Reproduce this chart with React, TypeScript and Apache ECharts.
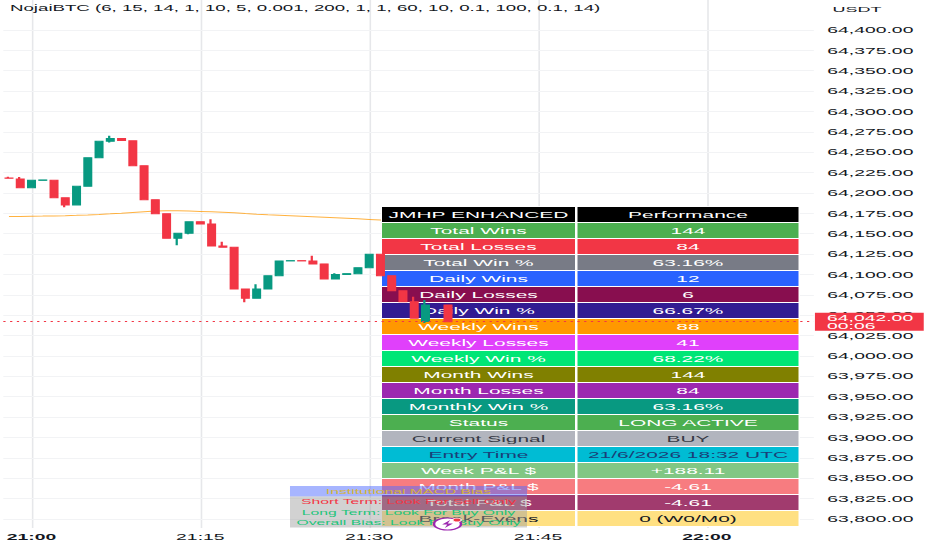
import React, { useEffect, useRef } from 'react';
import * as echarts from 'echarts';

// ---------- data ----------
const TITLE = 'NojaiBTC (6, 15, 14, 1, 10, 5, 0.001, 200, 1, 1, 60, 10, 0.1, 100, 0.1, 14)';
const CURRENCY = 'USDT';
const COUNTDOWN = '00:06';

const TIMES: string[] = [
  '20:58', '20:59',
  '21:00', '21:01', '21:02', '21:03', '21:04', '21:05', '21:06', '21:07', '21:08', '21:09',
  '21:10', '21:11', '21:12', '21:13', '21:14', '21:15', '21:16', '21:17', '21:18', '21:19',
  '21:20', '21:21', '21:22', '21:23', '21:24', '21:25', '21:26', '21:27', '21:28', '21:29',
  '21:30', '21:31', '21:32', '21:33', '21:34', '21:35', '21:36', '21:37', '21:38', '21:39',
  '21:40', '21:41', '21:42', '21:43', '21:44', '21:45', '21:46', '21:47', '21:48', '21:49',
  '21:50', '21:51', '21:52', '21:53', '21:54', '21:55', '21:56', '21:57', '21:58', '21:59',
  '22:00', '22:01', '22:02', '22:03', '22:04', '22:05', '22:06', '22:07', '22:08', '22:09',
];
const TIME_LABELS = ['21:00', '21:15', '21:30', '21:45', '22:00'];

const PRICE_TICKS = [
  63800, 63825, 63850, 63875, 63900, 63925, 63950, 63975, 64000, 64025, 64050, 64075, 64100,
  64125, 64150, 64175, 64200, 64225, 64250, 64275, 64300, 64325, 64350, 64375, 64400,
];
const PRICE_MIN = 63788.9;
const PRICE_MAX = 64436.8;

const CANDLE_TIMES = [
  '20:58', '20:59', '21:00', '21:01', '21:02', '21:03', '21:04', '21:05', '21:06', '21:07',
  '21:08', '21:09', '21:10', '21:11', '21:12', '21:13', '21:14', '21:15', '21:16', '21:17',
  '21:18', '21:19', '21:20', '21:21', '21:22', '21:23', '21:24', '21:25', '21:26', '21:27',
  '21:28', '21:29', '21:30', '21:31', '21:32', '21:33', '21:34', '21:35', '21:37',
];
const OPEN = [
  64218.5, 64217, 64206.5, 64215.5, 64215.6, 64194.2, 64185.3, 64208.2, 64243.3, 64263.4,
  64267, 64264, 64233.5, 64191.8, 64174.6, 64144.4, 64150.5, 64164.8, 64162, 64135,
  64133.4, 64082.2, 64070.8, 64082.2, 64098.5, 64116.6, 64117, 64116.6, 64113, 64094.5,
  64100, 64101, 64108.4, 64124.8, 64098.5, 64079.9, 64066.6, 64042.2, 64062.6,
];
const CLOSE = [
  64218, 64206.5, 64215.6, 64216, 64194.2, 64185.3, 64208.2, 64243.3, 64263.4, 64267,
  64264.5, 64233.5, 64191.8, 64174.6, 64144.4, 64150.5, 64164.8, 64162, 64135, 64133.4,
  64082.2, 64070.8, 64082.2, 64098.5, 64116.6, 64117, 64116.6, 64113, 64094.5, 64100,
  64101, 64108.4, 64124.8, 64098.5, 64079.9, 64066.6, 64046.3, 64062.6, 64042,
];
const LOW = [
  64217.5, 64206.5, 64206.5, 64215.5, 64194.2, 64182.4, 64185.3, 64208.2, 64243.3, 64262,
  64264.5, 64233.5, 64191.8, 64174.6, 64144.4, 64136, 64149.5, 64162, 64135, 64133.4,
  64082.2, 64065.9, 64070.8, 64082.2, 64098.5, 64116.6, 64116.6, 64113, 64094.5, 64094.5,
  64100, 64101, 64108.4, 64098.5, 64079.9, 64066.6, 64046.3, 64040.5, 64042,
];
const HIGH = [
  64220, 64219.6, 64215.6, 64216, 64215.6, 64194.2, 64208.2, 64243.3, 64263.4, 64270.3,
  64267, 64264, 64233.5, 64191.8, 64174.6, 64150.5, 64164.8, 64164.8, 64167.7, 64140,
  64133.4, 64082.2, 64088, 64098.5, 64116.6, 64117, 64117, 64123, 64113, 64101.5,
  64101, 64108.4, 64124.8, 64124.8, 64098.5, 64079.9, 64072.6, 64068.7, 64062.6,
];
// moving average, 20:58 .. 21:37
const MA_VALUES = [
  64171.0, 64171.2, 64171.4, 64171.6, 64171.9, 64172.2, 64172.6, 64173.1, 64173.7, 64174.4,
  64175.2, 64176.1, 64177.0, 64177.8, 64178.2, 64178.1, 64177.8, 64177.4, 64177.0, 64176.4,
  64175.6, 64174.7, 64173.9, 64173.2, 64172.6, 64172.0, 64171.4, 64170.8, 64170.2, 64169.6,
  64169.0, 64168.3, 64167.6, 64166.9, 64165.8, 64164.7, 64163.5, 64162.5, 64161.6, 64160.75,
];

const TABLE_HEAD = ['JMHP ENHANCED', 'Performance'];
const TABLE_LABELS = [
  'Total Wins', 'Total Losses', 'Total Win %', 'Daily Wins', 'Daily Losses', 'Daily Win %',
  'Weekly Wins', 'Weekly Losses', 'Weekly Win %', 'Month Wins', 'Month Losses', 'Monthly Win %',
  'Status', 'Current Signal', 'Entry Time', 'Week P&L $', 'Month P&L $', 'Total P&L $', 'Break-Evens',
];
const TABLE_VALUES = [
  '144', '84', '63.16%', '12', '6', '66.67%',
  '88', '41', '68.22%', '144', '84', '63.16%',
  'LONG ACTIVE', 'BUY', '21/6/2026 18:32 UTC', '+188.11', '-4.61', '-4.61', '0 (W0/M0)',
];
const MACD_TITLE = 'Institutional MACD Bias';
const MACD_ROWS = [
  'Short Term: Look For Sell Only',
  'Long Term: Look For Buy Only',
  'Overall Bias: Look For Buy Only',
];

// ---------- styles ----------
const ROW_STYLE = [
  { bg: '#000000', fg: '#ffffff' },
  { bg: '#4caf50', fg: '#ffffff' },
  { bg: '#f23645', fg: '#ffffff' },
  { bg: '#787b86', fg: '#ffffff' },
  { bg: '#2962ff', fg: '#ffffff' },
  { bg: '#880e4f', fg: '#ffffff' },
  { bg: '#311b92', fg: '#ffffff' },
  { bg: '#ff9800', fg: '#ffffff' },
  { bg: '#e040fb', fg: '#ffffff' },
  { bg: '#00e676', fg: '#ffffff' },
  { bg: '#808000', fg: '#ffffff' },
  { bg: '#9c27b0', fg: '#ffffff' },
  { bg: '#089981', fg: '#ffffff' },
  { bg: '#4caf50', fg: '#ffffff' },
  { bg: '#b2b5be', fg: '#363a45' },
  { bg: '#00bcd4', fg: '#1a3f78' },
  { bg: '#81c784', fg: '#ffffff' },
  { bg: '#f77c80', fg: '#ffffff' },
  { bg: '#a13b6e', fg: '#ffffff' },
  { bg: '#ffe082', fg: '#131722' },
];
const MACD_COLORS = ['#f23645', '#1ec47a', '#1ec47a'];

const FONT = '"Liberation Sans", Arial, sans-serif';
const TXT = '#131722';
const UP = '#089981';
const DOWN = '#f23645';

// the reference is horizontally stretched; draw in a narrow box and stretch it
const NAT_W = 414;
const S = 932 / NAT_W;
const nx = (v: number) => v / S;

const fmtPrice = (v: number) =>
  Number(v).toLocaleString('en-US', { minimumFractionDigits: 2, maximumFractionDigits: 2 });

function textEl(x: number, y: number, text: string, fill: string, size: number, z: number, align = 'center', weight = 'normal') {
  return {
    type: 'text',
    z,
    x,
    y,
    silent: true,
    style: {
      text,
      fill,
      font: `${weight} ${size}px ${FONT}`,
      textAlign: align,
      textVerticalAlign: 'middle',
      align,
      verticalAlign: 'middle',
    },
  };
}

function buildGraphic() {
  const els: any[] = [];
  // table
  const top = 207;
  const pitch = 16;
  const cellH = 15;
  const c1x = nx(382), c1w = nx(193);
  const c2x = nx(577.5), c2w = nx(221);
  const rows = [TABLE_HEAD, ...TABLE_LABELS.map((l, i) => [l, TABLE_VALUES[i]])];
  els.push({
    type: 'rect', z: 2, silent: true,
    shape: { x: nx(381), y: top - 1, width: nx(419), height: rows.length * pitch + 1 },
    style: { fill: '#ffffff' },
  });
  rows.forEach((r, i) => {
    const y = top + i * pitch;
    const st = ROW_STYLE[i];
    els.push({ type: 'rect', z: 2, silent: true, shape: { x: c1x, y, width: c1w, height: cellH }, style: { fill: st.bg } });
    els.push({ type: 'rect', z: 2, silent: true, shape: { x: c2x, y, width: c2w, height: cellH }, style: { fill: st.bg } });
    els.push(textEl(c1x + c1w / 2, y + cellH / 2 + 0.5, r[0], st.fg, 9.3, 3));
    els.push(textEl(c2x + c2w / 2, y + cellH / 2 + 0.5, r[1], st.fg, 9.3, 3));
  });
  // MACD bias box
  const bx = nx(290), bw = nx(237);
  const by = 486, bh = 10.4;
  els.push({ type: 'rect', z: 6, silent: true, shape: { x: bx, y: by, width: bw, height: bh }, style: { fill: 'rgba(79,108,255,0.5)' } });
  els.push({ type: 'rect', z: 6, silent: true, shape: { x: bx, y: by + bh, width: bw, height: bh * 3 }, style: { fill: 'rgba(160,160,160,0.47)' } });
  els.push(textEl(bx + bw / 2, by + bh / 2 + 0.3, MACD_TITLE, '#d4b43a', 7, 7));
  MACD_ROWS.forEach((t, i) => {
    els.push(textEl(bx + bw / 2, by + bh * (i + 1) + bh / 2 + 0.3, t, MACD_COLORS[i], 7, 7));
  });
  // small badge
  const cx = nx(447.5), cy = 524;
  els.push({ type: 'circle', z: 8, silent: true, shape: { cx, cy, r: 6 }, style: { fill: '#ffffff', stroke: '#9c27b0', lineWidth: 1.1 } });
  els.push({
    type: 'polygon', z: 8, silent: true,
    shape: { points: [[cx + 1.2, cy - 4], [cx - 2.4, cy + 0.6], [cx - 0.1, cy + 0.6], [cx - 1.2, cy + 4], [cx + 2.4, cy - 0.6], [cx + 0.1, cy - 0.6]] },
    style: { fill: '#9c27b0' },
  });
  els.push({ type: 'circle', z: 8, silent: true, shape: { cx: nx(457), cy: 520, r: 1.9 }, style: { fill: '#f23645', stroke: '#ffffff', lineWidth: 0.6 } });
  // currency
  els.push(textEl(nx(857), 9.5, CURRENCY, TXT, 8, 10));
  return els;
}

function buildOption() {
  const last = CLOSE.length - 1;
  const maLast = MA_VALUES[MA_VALUES.length - 1];
  const labelBase = {
    show: true,
    position: 'end',
    distance: 0.5,
    fontSize: 8.6,
    fontFamily: FONT,
    align: 'left',
  };
  return {
    animation: false,
    backgroundColor: '#ffffff',
    title: {
      text: TITLE,
      left: nx(10),
      top: 4.5,
      padding: 0,
      textStyle: { fontSize: 8.3, fontWeight: 'normal', color: TXT, fontFamily: FONT },
    },
    grid: { left: 0, right: NAT_W - 361.5, top: 0, bottom: 22 },
    xAxis: {
      type: 'category',
      data: TIMES,
      boundaryGap: true,
      axisLine: { show: false },
      axisTick: { show: false },
      splitLine: { show: false },
      axisLabel: {
        interval: (_i: number, v: string) => TIME_LABELS.includes(v),
        formatter: (v: string) => (v.endsWith(':00') ? `{b|${v}}` : v),
        fontSize: 8.6,
        fontFamily: FONT,
        color: TXT,
        margin: 4,
        rich: { b: { fontSize: 8.6, fontFamily: FONT, color: TXT, fontWeight: 'bold' } },
      },
    },
    yAxis: {
      type: 'value',
      position: 'right',
      min: PRICE_MIN,
      max: PRICE_MAX,
      axisLine: { show: false },
      axisTick: { show: false },
      splitLine: { show: false },
      axisLabel: {
        customValues: PRICE_TICKS,
        formatter: (v: number) => fmtPrice(v),
        fontSize: 8.6,
        fontFamily: FONT,
        color: TXT,
        margin: 6,
      },
    },
    graphic: { elements: buildGraphic() },
    series: [
      {
        type: 'line',
        name: 'MA',
        z: 1,
        data: MA_VALUES,
        symbol: 'none',
        silent: true,
        lineStyle: { color: '#ff9800', width: 1, opacity: 0.75 },
        markLine: {
          z: 0,
          silent: true,
          symbol: ['none', 'none'],
          label: { show: false },
          data: [
            ...TIME_LABELS.map((t) => ({ xAxis: t, lineStyle: { color: '#e6e7ea', width: 0.7, type: 'solid' } })),
            ...PRICE_TICKS.map((p) => ({ yAxis: p, lineStyle: { color: '#f2f3f5', width: 1, type: 'solid' } })),
          ],
        },
      },
      {
        type: 'candlestick',
        name: 'NojaiBTC',
        z: 4,
        barWidth: 2.8,
        encode: { x: 0, y: [1, 2, 3, 4] },
        data: CANDLE_TIMES.map((t, i) => [t, OPEN[i], CLOSE[i], LOW[i], HIGH[i]]),
        itemStyle: { color: UP, color0: DOWN, borderColor: UP, borderColor0: DOWN, borderWidth: 1 },
        markLine: {
          z: 5,
          silent: true,
          symbol: ['none', 'none'],
          data: [
            {
              yAxis: CLOSE[last],
              lineStyle: { color: DOWN, width: 1, type: [1, 2] },
              label: {
                ...labelBase,
                formatter: (p: any) => `${fmtPrice(p.value)}\n${COUNTDOWN}`,
                backgroundColor: DOWN,
                color: '#ffffff',
                lineHeight: 8,
                padding: [1, 4.7, 1, 5.4],
              },
            },
            {
              yAxis: maLast,
              lineStyle: { opacity: 0 },
              label: {
                ...labelBase,
                formatter: (p: any) => fmtPrice(p.value),
                backgroundColor: '#ff9800',
                color: TXT,
                lineHeight: 9,
                padding: [3, 4.7, 2, 5.4],
              },
            },
          ],
        },
      },
    ],
  };
}

export default function App() {
  const ref = useRef<HTMLDivElement>(null);
  useEffect(() => {
    document.body.style.margin = '0';
    document.body.style.overflow = 'hidden';
    const chart = echarts.init(ref.current as HTMLDivElement, null, { renderer: 'svg' });
    chart.setOption(buildOption() as any);
    return () => chart.dispose();
  }, []);
  return (
    <div style={{ width: 932, height: 550, overflow: 'hidden', background: '#ffffff' }}>
      <div
        ref={ref}
        style={{ width: NAT_W, height: 550, transform: `scaleX(${S})`, transformOrigin: '0 0' }}
      />
    </div>
  );
}
